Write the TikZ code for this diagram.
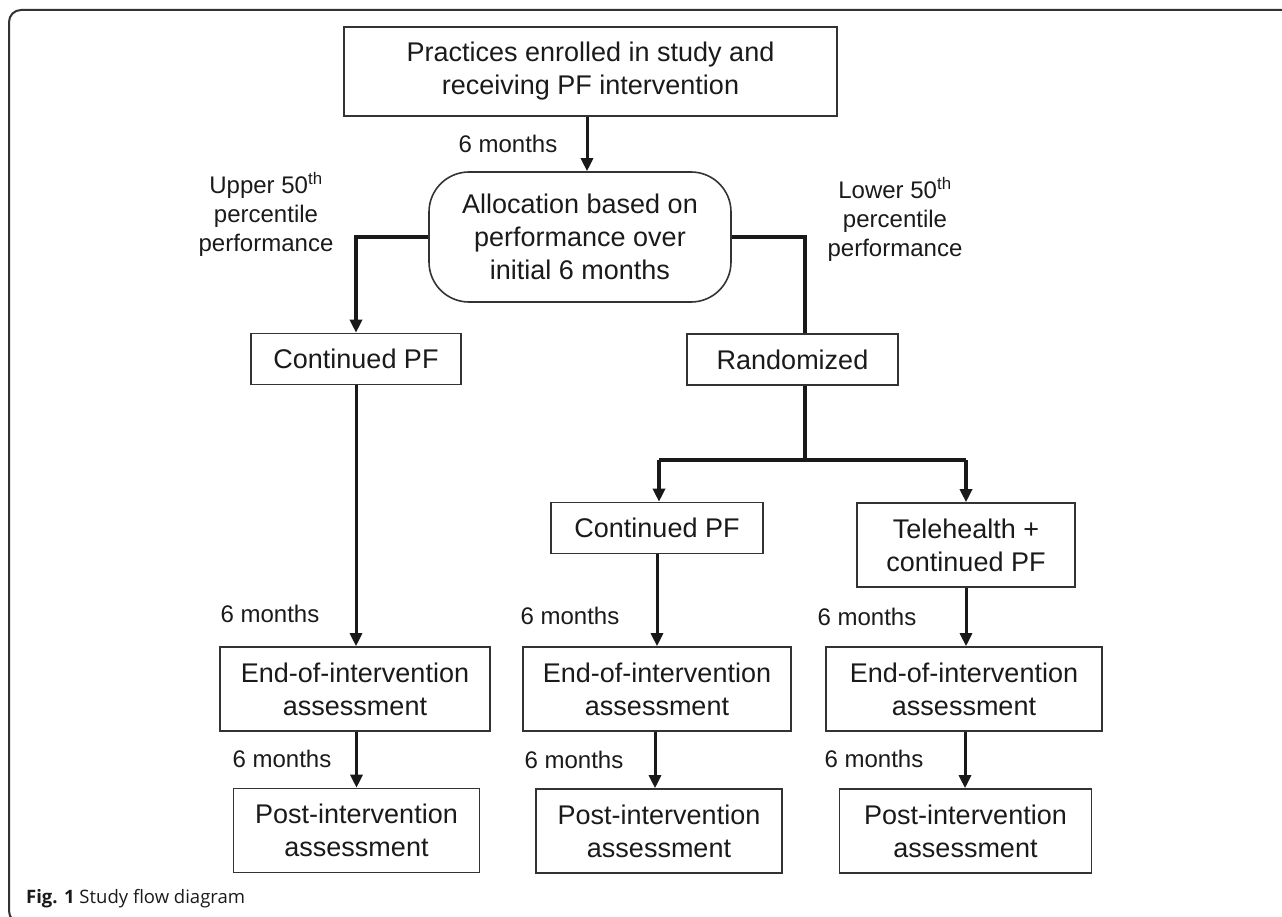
\documentclass[tikz,border=0pt]{standalone}
\usepackage{fontspec}
\setmainfont{Liberation Sans}
\newfontfamily\capfont{Open Sans}
\usetikzlibrary{arrows.meta}
\definecolor{boxline}{HTML}{333333}
\definecolor{txt}{HTML}{1A1A1A}
\tikzset{
  box/.style={draw=boxline, line width=1.6pt, inner sep=0pt, align=center, text=txt,
    font=\fontsize{27}{33}\selectfont},
  lbl/.style={inner sep=0pt, text=txt, font=\fontsize{24}{29}\selectfont, align=center},
  conn/.style={line width=4pt, draw=black!90},
  arr/.style={line width=3pt, draw=black!90, -{Triangle[length=13pt,width=12pt]}},
  arrthick/.style={line width=4pt, draw=black!90, -{Triangle[length=13pt,width=12pt]}},
}
\begin{document}
\begin{tikzpicture}[x=1pt,y=-1pt]
\useasboundingbox (0,0) rectangle (1282,917);
% frame
\begin{scope}
\clip (0,0) rectangle (1282,917);
\draw[line width=2pt, draw=black!80, rounded corners=12pt] (1300,10) -- (9,10) -- (9,923) -- (60,923);
\end{scope}
% nodes
\node[box, minimum width=493pt, minimum height=89pt] (top) at (590.5,71.5)
  {Practices enrolled in study and\\receiving PF intervention};
\node[box, rounded corners=40pt, minimum width=302pt, minimum height=130pt] (alloc) at (580,237)
  {Allocation based on\\performance over\\initial 6 months};
\node[box, minimum width=210pt, minimum height=51pt] (cpfa) at (356,359) {Continued PF};
\node[box, minimum width=211pt, minimum height=51pt] (rand) at (792.5,359.5) {Randomized};
\node[box, minimum width=212pt, minimum height=51pt] (cpfb) at (657,528) {Continued PF};
\node[box, minimum width=218pt, minimum height=84pt] (tele) at (966,545) {Telehealth +\\continued PF};
\node[box, minimum width=270pt, minimum height=84pt] (enda) at (355,689) {End-of-intervention\\assessment};
\node[box, minimum width=268pt, minimum height=84pt] (endb) at (657,689) {End-of-intervention\\assessment};
\node[box, minimum width=276pt, minimum height=84pt] (endc) at (964,689) {End-of-intervention\\assessment};
\node[box, minimum width=246pt, minimum height=84pt] (posta) at (356.5,830.5) {Post-intervention\\assessment};
\node[box, minimum width=246pt, minimum height=84pt] (postb) at (659,831) {Post-intervention\\assessment};
\node[box, minimum width=252pt, minimum height=84pt] (postc) at (965.5,831) {Post-intervention\\assessment};
% labels
\node[lbl, anchor=base] (m0) at (508,153) {6 months};
\node[lbl, anchor=base] (up) at (266,252) {Upper 50\textsuperscript{th}\\percentile\\performance};
\node[lbl, anchor=base] (lo) at (895,257) {Lower 50\textsuperscript{th}\\percentile\\performance};
\node[lbl, anchor=base] (m1) at (270,622) {6 months};
\node[lbl, anchor=base] (m2) at (570,624) {6 months};
\node[lbl, anchor=base] (m3) at (867,625) {6 months};
\node[lbl, anchor=base] (m4) at (282,767) {6 months};
\node[lbl, anchor=base] (m5) at (574,768) {6 months};
\node[lbl, anchor=base] (m6) at (874,767) {6 months};
% connectors
\draw[arr] ([xshift=-3.5pt]top.south) -- ([xshift=7pt]alloc.north);
\draw[arrthick] (alloc.west) -| (cpfa.north);
\draw[conn] (alloc.east) -| ([xshift=12.5pt]rand.north);
\coordinate (junc) at (805,460);
\draw[conn] ([xshift=12.5pt]rand.south) -- (junc);
\draw[conn] ([xshift=2pt]cpfb.north |- junc) -- ([xshift=0pt]tele.north |- junc);
\draw[arrthick] ([xshift=2pt]cpfb.north |- junc) -- ([xshift=2pt]cpfb.north);
\draw[arrthick] (tele.north |- junc) -- (tele.north);
\draw[arr] (cpfa.south) -- (cpfa.south |- enda.north);
\draw[arr] (cpfb.south) -- (cpfb.south |- endb.north);
\draw[arr] (tele.south) -- (tele.south |- endc.north);
\draw[arr] ([xshift=1.5pt]enda.south) -- ([xshift=1.5pt]enda.south |- posta.north);
\draw[arr] ([xshift=-2pt]endb.south) -- ([xshift=-2pt]endb.south |- postb.north);
\draw[arr] ([xshift=1pt]endc.south) -- ([xshift=1pt]endc.south |- postc.north);
% caption
\node[anchor=base west, inner sep=0pt, text=txt, font=\capfont\fontsize{18.5}{22}\selectfont] (cap) at (26,903)
  {\textbf{Fig. 1} Study flow diagram};
\end{tikzpicture}
\end{document}
